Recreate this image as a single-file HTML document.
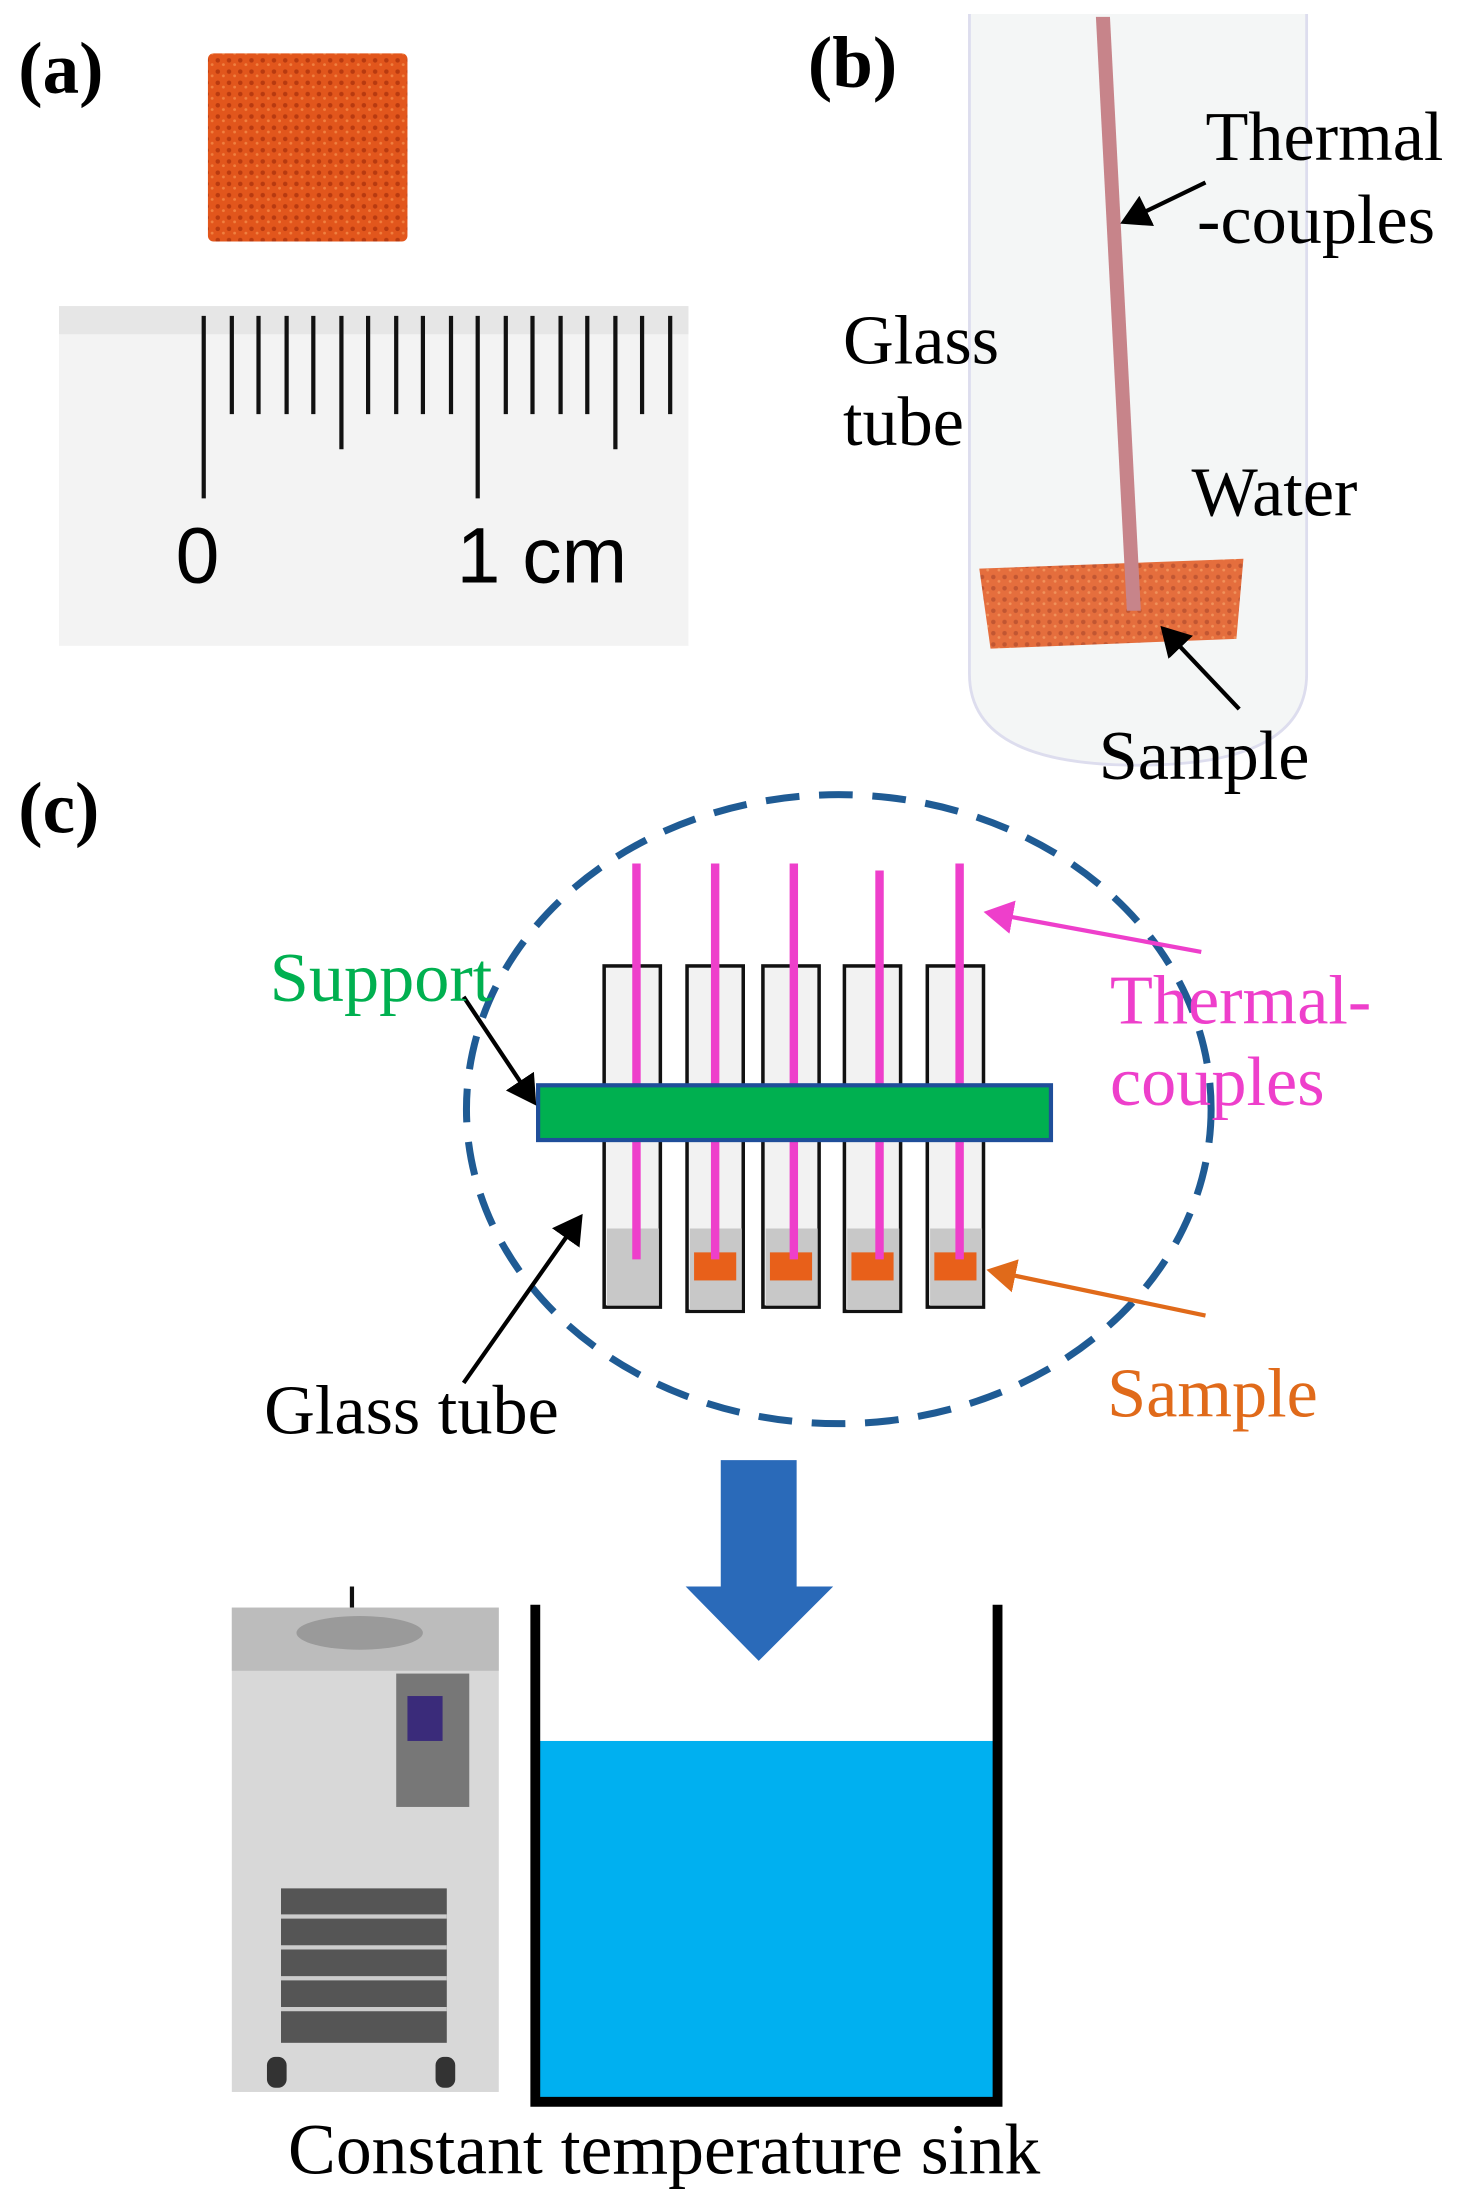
<!DOCTYPE html>
<html><head><meta charset="utf-8"><style>
html,body{margin:0;padding:0;background:#fff;width:1459px;height:2204px;overflow:hidden}
#w{position:absolute;left:0;top:0;width:1053px;height:1570px;transform:scale(1.405,1.404);transform-origin:0 0}
.t{position:absolute;font-family:"Liberation Serif",serif;white-space:nowrap;line-height:1}
</style></head><body><div id="w">
<svg width="1053" height="1570" style="position:absolute;left:0;top:0">
<defs>
<marker id="ab" markerWidth="8" markerHeight="8" refX="6" refY="4" orient="auto" markerUnits="strokeWidth"><path d="M0,0L7,4L0,8z" fill="#000"/></marker>
<marker id="am" markerWidth="8" markerHeight="8" refX="6" refY="4" orient="auto" markerUnits="strokeWidth"><path d="M0,0L7,4L0,8z" fill="#ee3fcb"/></marker>
<marker id="ao" markerWidth="8" markerHeight="8" refX="6" refY="4" orient="auto" markerUnits="strokeWidth"><path d="M0,0L7,4L0,8z" fill="#e06a1a"/></marker>
<pattern id="fo" width="8" height="8" patternUnits="userSpaceOnUse"><rect width="8" height="8" fill="#e2561c"/><circle cx="3" cy="3" r="1.6" fill="#b83a10"/><circle cx="7" cy="6" r="1" fill="#f08040"/></pattern>
</defs>
<rect x="148" y="38" width="142" height="134" fill="url(#fo)" rx="4"/>
<rect x="42" y="218" width="448" height="242" fill="#f3f3f3"/>
<rect x="42" y="218" width="448" height="20" fill="#e6e6e6"/>
<g stroke="#111" stroke-width="3">
<line x1="145" y1="225" x2="145" y2="355"/><line x1="165" y1="225" x2="165" y2="295"/><line x1="184" y1="225" x2="184" y2="295"/><line x1="204" y1="225" x2="204" y2="295"/><line x1="223" y1="225" x2="223" y2="295"/><line x1="243" y1="225" x2="243" y2="320"/><line x1="262" y1="225" x2="262" y2="295"/><line x1="282" y1="225" x2="282" y2="295"/><line x1="301" y1="225" x2="301" y2="295"/><line x1="321" y1="225" x2="321" y2="295"/><line x1="340" y1="225" x2="340" y2="355"/><line x1="360" y1="225" x2="360" y2="295"/><line x1="379" y1="225" x2="379" y2="295"/><line x1="399" y1="225" x2="399" y2="295"/><line x1="418" y1="225" x2="418" y2="295"/><line x1="438" y1="225" x2="438" y2="320"/><line x1="457" y1="225" x2="457" y2="295"/><line x1="477" y1="225" x2="477" y2="295"/>
</g>
<path d="M690,10 L690,480 Q690,545 810,545 Q930,545 930,480 L930,10" fill="#f4f6f6" stroke="#dde" stroke-width="2"/>
<path d="M697,405 L885,398 L880,455 L705,462 Z" fill="url(#fo)" opacity="0.85"/>
<path d="M780,12 L790,12 L812,435 L802,435 Z" fill="#c7848a"/>
<line x1="858" y1="130" x2="800" y2="158" stroke="#000" stroke-width="3" marker-end="url(#ab)"/>
<line x1="882" y1="505" x2="828" y2="448" stroke="#000" stroke-width="3" marker-end="url(#ab)"/>
<ellipse cx="597" cy="790" rx="265" ry="224" fill="none" stroke="#1f5b94" stroke-width="5" stroke-dasharray="24,14"/>
<g stroke="#111" stroke-width="2.5" fill="#f2f2f2">
<rect x="430" y="688" width="40" height="243"/><rect x="489" y="688" width="40" height="246"/><rect x="543" y="688" width="40" height="243"/><rect x="601" y="688" width="40" height="246"/><rect x="660" y="688" width="40" height="243"/>
</g>
<g fill="#c8c8c8"><rect x="432" y="875" width="37" height="55"/><rect x="491" y="875" width="37" height="58"/><rect x="545" y="875" width="37" height="55"/><rect x="603" y="875" width="37" height="58"/><rect x="662" y="875" width="37" height="55"/></g>
<g fill="#e8601a"><rect x="494" y="892" width="30" height="20"/><rect x="548" y="892" width="30" height="20"/><rect x="606" y="892" width="30" height="20"/><rect x="665" y="892" width="30" height="20"/></g>
<g stroke="#ee3fcb" stroke-width="6"><line x1="453" y1="615" x2="453" y2="897"/><line x1="509" y1="615" x2="509" y2="897"/><line x1="565" y1="615" x2="565" y2="897"/><line x1="626" y1="620" x2="626" y2="897"/><line x1="683" y1="615" x2="683" y2="897"/></g>
<rect x="383" y="773" width="365" height="39" fill="#00b050" stroke="#1f4e9a" stroke-width="3"/>
<line x1="330" y1="710" x2="380" y2="785" stroke="#000" stroke-width="3" marker-end="url(#ab)"/>
<line x1="330" y1="985" x2="413" y2="867" stroke="#000" stroke-width="3" marker-end="url(#ab)"/>
<line x1="855" y1="678" x2="703" y2="650" stroke="#ee3fcb" stroke-width="3" marker-end="url(#am)"/>
<line x1="858" y1="937" x2="705" y2="905" stroke="#e06a1a" stroke-width="3" marker-end="url(#ao)"/>
<path d="M513,1040 L567,1040 L567,1130 L593,1130 L540,1183 L488,1130 L513,1130 Z" fill="#2a6ab9"/>
<rect x="249" y="1130" width="3" height="15" fill="#111"/>
<rect x="165" y="1145" width="190" height="345" fill="#d8d8d8"/>
<rect x="165" y="1145" width="190" height="45" fill="#bcbcbc"/>
<ellipse cx="256" cy="1163" rx="45" ry="12" fill="#9a9a9a"/>
<rect x="282" y="1192" width="52" height="95" fill="#777"/>
<rect x="290" y="1208" width="25" height="32" fill="#3a2b7a"/>
<rect x="200" y="1345" width="118" height="110" fill="#555"/>
<g stroke="#ccc" stroke-width="3"><line x1="200" y1="1365" x2="318" y2="1365"/><line x1="200" y1="1387" x2="318" y2="1387"/><line x1="200" y1="1409" x2="318" y2="1409"/><line x1="200" y1="1431" x2="318" y2="1431"/></g>
<rect x="190" y="1465" width="14" height="22" rx="6" fill="#333"/><rect x="310" y="1465" width="14" height="22" rx="6" fill="#333"/>
<rect x="384" y="1240" width="323" height="254" fill="#00b0f0"/>
<path d="M381,1143 L381,1497 L710,1497 L710,1143" fill="none" stroke="#000" stroke-width="7"/>
</svg>
<div class="t" style="left:13px;top:24px;font-size:52px;font-weight:bold">(a)</div>
<div class="t" style="left:575px;top:20px;font-size:52px;font-weight:bold">(b)</div>
<div class="t" style="left:13px;top:551px;font-size:52px;font-weight:bold">(c)</div>
<div class="t" style="left:125px;top:368px;font-size:56px;font-family:'Liberation Sans',sans-serif">0</div>
<div class="t" style="left:325px;top:368px;font-size:56px;font-family:'Liberation Sans',sans-serif">1 cm</div>
<div class="t" style="left:858px;top:72px;font-size:50px">Thermal</div>
<div class="t" style="left:852px;top:131px;font-size:50px">-couples</div>
<div class="t" style="left:600px;top:217px;font-size:50px">Glass</div>
<div class="t" style="left:600px;top:275px;font-size:50px">tube</div>
<div class="t" style="left:848px;top:325px;font-size:50px">Water</div>
<div class="t" style="left:782px;top:513px;font-size:50px">Sample</div>
<div class="t" style="left:192px;top:671px;font-size:50px;color:#00b050">Support</div>
<div class="t" style="left:790px;top:687px;font-size:50px;color:#ee3fcb">Thermal-</div>
<div class="t" style="left:790px;top:745px;font-size:50px;color:#ee3fcb">couples</div>
<div class="t" style="left:788px;top:967px;font-size:50px;color:#e06a1a">Sample</div>
<div class="t" style="left:188px;top:979px;font-size:50px">Glass tube</div>
<div class="t" style="left:205px;top:1507px;font-size:51px">Constant temperature sink</div>
</div></body></html>
